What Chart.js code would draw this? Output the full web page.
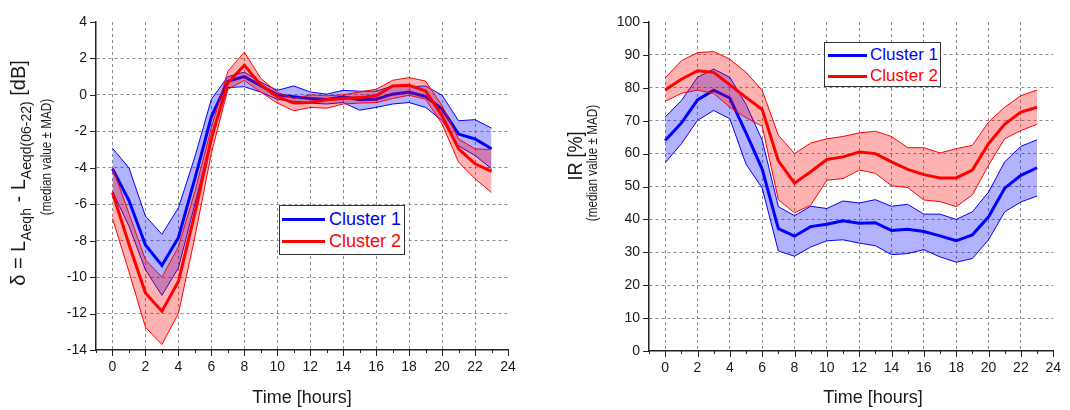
<!DOCTYPE html>
<html>
<head>
<meta charset="utf-8">
<script src="https://cdn.jsdelivr.net/npm/chart.js@4.4.1/dist/chart.umd.min.js"></script>
<style>
  html, body { margin: 0; padding: 0; background: #fff; }
  body { width: 1070px; height: 410px; position: relative; overflow: hidden; font-family: "Liberation Sans", Arial, sans-serif; }
  .panel { position: absolute; top: 0; height: 410px; }
  #leftPanel { left: 0; width: 540px; }
  #rightPanel { left: 540px; width: 530px; }
  .legend { position: absolute; background: #fff; border: 1.5px solid #333; box-sizing: border-box; z-index: 2; }
  .legend .row { position: absolute; left: 0; height: 20px; line-height: 20px; white-space: nowrap; }
  .legend .swatch { position: absolute; top: 8.5px; height: 3px; }
  .legend .label { position: absolute; top: 0; }
</style>
</head>
<body>
<div class="panel" id="leftPanel"><canvas id="deltaChart"></canvas></div>
<div class="panel" id="rightPanel"><canvas id="irChart"></canvas></div>

<div class="legend" style="left:279px; top:205px; width:126px; height:50px;">
  <div class="row" style="top:3px;"><span class="swatch" style="left:2px; width:43px; background:#0000ff;"></span><span class="label" style="left:49px; font-size:18px; color:#0000ff;">Cluster 1</span></div>
  <div class="row" style="top:25px;"><span class="swatch" style="left:2px; width:43px; background:#ff0000;"></span><span class="label" style="left:49px; font-size:18px; color:#ff0000;">Cluster 2</span></div>
</div>
<div class="legend" style="left:824px; top:42px; width:117px; height:45px;">
  <div class="row" style="top:2px;"><span class="swatch" style="left:3px; width:39px; background:#0000ff;"></span><span class="label" style="left:45px; font-size:17px; color:#0000ff;">Cluster 1</span></div>
  <div class="row" style="top:23px;"><span class="swatch" style="left:3px; width:39px; background:#ff0000;"></span><span class="label" style="left:45px; font-size:17px; color:#ff0000;">Cluster 2</span></div>
</div>

<script>
// --- Data ---
const hours = [0, 1, 2, 3, 4, 5, 6, 7, 8, 9, 10, 11, 12, 13, 14, 15, 16, 17, 18, 19, 20, 21, 22, 23];

// Left panel: delta = LAeqh - LAeqd(06-22) [dB]
const deltaC1Med = [-4.05, -5.8, -8.24, -9.36, -7.84, -4.6, -1.2, 0.75, 1.0, 0.5, 0.0, -0.1, -0.2, -0.25, -0.1, -0.27, -0.24, 0.04, 0.16, -0.09, -0.78, -2.15, -2.42, -2.96];
const deltaC1Hi  = [-2.93, -4.0, -6.65, -7.65, -6.2, -3.4, -0.24, 1.0, 1.25, 0.7, 0.25, 0.49, 0.16, 0.04, 0.25, 0.2, 0.2, 0.5, 0.45, 0.49, -0.02, -1.42, -1.36, -1.82];
const deltaC1Lo  = [-5.3, -7.2, -9.6, -11.0, -9.5, -6.0, -2.4, 0.4, 0.45, 0.15, -0.25, -0.35, -0.45, -0.5, -0.42, -0.84, -0.69, -0.5, -0.42, -0.69, -1.4, -2.8, -3.33, -4.05];
const deltaC2Med = [-5.36, -8.2, -10.87, -11.87, -10.24, -6.5, -2.4, 0.67, 1.62, 0.55, -0.1, -0.45, -0.42, -0.27, -0.2, -0.15, -0.05, 0.49, 0.53, 0.22, -1.15, -2.96, -3.78, -4.2];
const deltaC2Hi  = [-4.0, -6.5, -9.05, -10.0, -8.33, -5.3, -1.8, 1.3, 2.35, 0.9, 0.15, -0.2, 0.0, -0.05, 0.0, 0.16, 0.31, 0.8, 0.95, 0.76, -0.6, -2.42, -2.96, -3.0];
const deltaC2Lo  = [-6.78, -9.7, -12.75, -13.7, -12.0, -7.8, -3.2, 0.3, 0.8, 0.15, -0.45, -0.87, -0.69, -0.73, -0.5, -0.45, -0.42, -0.2, -0.02, -0.24, -1.6, -3.69, -4.6, -5.36];

// Right panel: IR [%]
const irC1Med = [64.0, 69.3, 76.3, 79.3, 76.9, 66.3, 55.3, 37.2, 34.9, 37.8, 38.5, 39.6, 38.8, 39.0, 36.6, 37.0, 36.3, 35.0, 33.5, 35.3, 40.8, 49.5, 53.4, 55.7];
const irC1Hi  = [71.1, 76.1, 83.2, 85.7, 83.2, 75.0, 64.1, 43.9, 41.1, 44.0, 43.3, 45.6, 45.0, 46.0, 44.0, 44.6, 41.6, 41.6, 40.0, 42.3, 48.3, 57.5, 62.2, 64.2];
const irC1Lo  = [57.2, 63.0, 70.1, 73.1, 70.6, 56.8, 49.5, 30.4, 28.8, 31.6, 33.5, 33.8, 32.8, 32.0, 29.3, 29.6, 30.8, 28.6, 27.0, 28.1, 33.8, 42.3, 45.3, 47.1];
const irC2Med = [79.3, 82.6, 85.2, 84.7, 80.9, 77.1, 73.4, 57.8, 51.0, 54.5, 58.2, 59.0, 60.5, 60.0, 57.5, 55.2, 53.6, 52.6, 52.6, 55.0, 63.0, 69.0, 72.6, 74.1];
const irC2Hi  = [83.0, 88.2, 90.7, 91.0, 88.7, 84.7, 79.2, 65.6, 60.0, 63.2, 64.5, 65.2, 66.3, 66.8, 65.2, 61.8, 61.8, 60.2, 61.5, 62.5, 69.6, 74.1, 77.6, 79.3];
const irC2Lo  = [75.9, 78.3, 79.3, 78.3, 74.1, 70.9, 68.3, 46.0, 42.0, 44.3, 51.9, 52.4, 55.0, 54.0, 50.2, 49.7, 45.9, 45.4, 43.9, 47.4, 56.5, 64.5, 67.0, 68.9];

// --- Styles ---
const FONT = '"Liberation Sans", Arial, sans-serif';
const TEXT = '#1a1a1a';
const AXIS = '#222';
const GRID = '#8a8a8a';
const BLUE = '#0000ff', RED = '#ff0000';
const BLUE_FILL = 'rgba(0, 0, 255, 0.3)', RED_FILL = 'rgba(255, 0, 0, 0.3)';

const pts = arr => hours.map((h, i) => ({ x: h, y: arr[i] }));

function bandDatasets(hi, lo, med, color, fillColor, baseOrder) {
    return [
        { data: pts(hi), borderColor: color, borderWidth: 1, backgroundColor: fillColor, fill: '+1', order: baseOrder + 2 },
        { data: pts(lo), borderColor: color, borderWidth: 1, fill: false, order: baseOrder + 1 },
        { data: pts(med), borderColor: color, borderWidth: 3, fill: false, order: baseOrder }
    ];
}

// rotated axis title made of pieces (for the subscripts)
// parts: [text, size, baseline shift]; squeeze narrows the text like a condensed face
function drawRotated(ctx, parts, x, cy, squeeze = 1) {
    ctx.save();
    ctx.translate(x, cy);
    ctx.rotate(-Math.PI / 2);
    ctx.scale(squeeze, 1);
    ctx.textAlign = 'left';
    ctx.textBaseline = 'alphabetic';
    ctx.fillStyle = TEXT;
    let total = 0;
    const widths = parts.map(p => {
        ctx.font = p[1] + 'px ' + FONT;
        const w = ctx.measureText(p[0]).width;
        total += w;
        return w;
    });
    let pos = -total / 2;
    parts.forEach((p, i) => {
        ctx.font = p[1] + 'px ' + FONT;
        ctx.fillText(p[0], pos, p[2]);
        pos += widths[i];
    });
    ctx.restore();
}

// major / minor tick marks drawn outside the axes
function makeTickMarks(yMajor) {
    return {
        id: 'tickMarks',
        afterDraw(chart) {
            const { ctx, chartArea: a, scales: { x, y } } = chart;
            ctx.save();
            ctx.strokeStyle = AXIS;
            ctx.lineWidth = 1;
            ctx.beginPath();
            x.ticks.forEach(t => {
                const px = Math.round(x.getPixelForValue(t.value)) + 0.5;
                const len = t.value % 2 === 0 ? 6 : 3;
                ctx.moveTo(px, a.bottom);
                ctx.lineTo(px, a.bottom + len);
            });
            y.ticks.forEach(t => {
                const py = Math.round(y.getPixelForValue(t.value)) + 0.5;
                const len = t.value % yMajor === 0 ? 6 : 3;
                ctx.moveTo(a.left - len, py);
                ctx.lineTo(a.left, py);
            });
            ctx.stroke();
            ctx.restore();
        }
    };
}

function makeTitles(yLines, xTitleX) {
    return {
        id: 'axisTitles',
        afterDraw(chart) {
            const ctx = chart.ctx;
            yLines.forEach(l => drawRotated(ctx, l.parts, l.x, l.cy, l.squeeze));
            ctx.save();
            ctx.font = '18px ' + FONT;
            ctx.fillStyle = TEXT;
            ctx.textAlign = 'center';
            ctx.textBaseline = 'middle';
            ctx.fillText('Time [hours]', xTitleX, 398);
            ctx.restore();
        }
    };
}

function makeOptions(cfg) {
    return {
        responsive: true,
        maintainAspectRatio: false,
        animation: false,
        layout: { padding: { left: 0, right: cfg.padRight, top: 22, bottom: 0 } },
        elements: { point: { radius: 0 }, line: { tension: 0 } },
        plugins: {
            legend: { display: false },
            tooltip: { enabled: false },
            filler: { drawTime: 'beforeDatasetDraw' }
        },
        scales: {
            x: {
                type: 'linear', min: -1, max: 24,
                afterFit: s => { s.height = cfg.xAxisH; },
                ticks: {
                    stepSize: 1, autoSkip: false, maxRotation: 0, padding: 9,
                    color: TEXT, font: { size: 14, family: FONT },
                    callback: v => (v >= 0 && v % 2 === 0) ? String(v) : ''
                },
                grid: {
                    drawTicks: false, lineWidth: 1,
                    color: c => {
                        const v = c.tick ? c.tick.value : NaN;
                        return (v >= 0 && v < 24 && v % 2 === 0) ? GRID : 'transparent';
                    }
                },
                border: { color: AXIS, width: 1.5, dash: [3, 3] }
            },
            y: {
                min: cfg.yMin, max: cfg.yMax,
                afterFit: s => { s.width = cfg.yAxisW; },
                ticks: {
                    stepSize: cfg.yMinor, padding: 9,
                    color: TEXT, font: { size: 14, family: FONT },
                    callback: v => v % cfg.yMajor === 0 ? String(v) : ''
                },
                grid: {
                    drawTicks: false, lineWidth: 1,
                    color: c => {
                        const v = c.tick ? c.tick.value : NaN;
                        return (v > cfg.yMin && v < cfg.yMax && v % cfg.yMajor === 0) ? GRID : 'transparent';
                    }
                },
                border: { color: AXIS, width: 1.5, dash: [3, 3] }
            }
        }
    };
}

// --- Left chart ---
new Chart(document.getElementById('deltaChart'), {
    type: 'line',
    data: {
        datasets: [
            ...bandDatasets(deltaC1Hi, deltaC1Lo, deltaC1Med, BLUE, BLUE_FILL, 4),
            ...bandDatasets(deltaC2Hi, deltaC2Lo, deltaC2Med, RED, RED_FILL, 1)
        ]
    },
    options: makeOptions({
        padRight: 32, xAxisH: 60, yAxisW: 96,
        yMin: -14, yMax: 4, yMinor: 1, yMajor: 2
    }),
    plugins: [
        makeTickMarks(2),
        makeTitles([
            { x: 25, cy: 173, parts: [
                ['δ = L', 20, 0],
                ['Aeqh', 14, 6],
                [' - L', 20, 0],
                ['Aeqd(06-22)', 14, 6],
                [' [dB]', 20, 0]
            ] },
            { x: 51, cy: 157, squeeze: 0.78, parts: [['(median value ± MAD)', 15, 0]] }
        ], 302)
    ]
});

// --- Right chart ---
new Chart(document.getElementById('irChart'), {
    type: 'line',
    data: {
        datasets: [
            ...bandDatasets(irC1Hi, irC1Lo, irC1Med, BLUE, BLUE_FILL, 4),
            ...bandDatasets(irC2Hi, irC2Lo, irC2Med, RED, RED_FILL, 1)
        ]
    },
    options: makeOptions({
        padRight: 10, xAxisH: 59, yAxisW: 109,
        yMin: 0, yMax: 100, yMinor: 5, yMajor: 10
    }),
    plugins: [
        makeTickMarks(10),
        makeTitles([
            { x: 42, cy: 156, parts: [['IR [%]', 20, 0]], squeeze: 0.9 },
            { x: 57, cy: 163, squeeze: 0.78, parts: [['(median value ± MAD)', 15, 0]] }
        ], 333)
    ]
});
</script>
</body>
</html>
